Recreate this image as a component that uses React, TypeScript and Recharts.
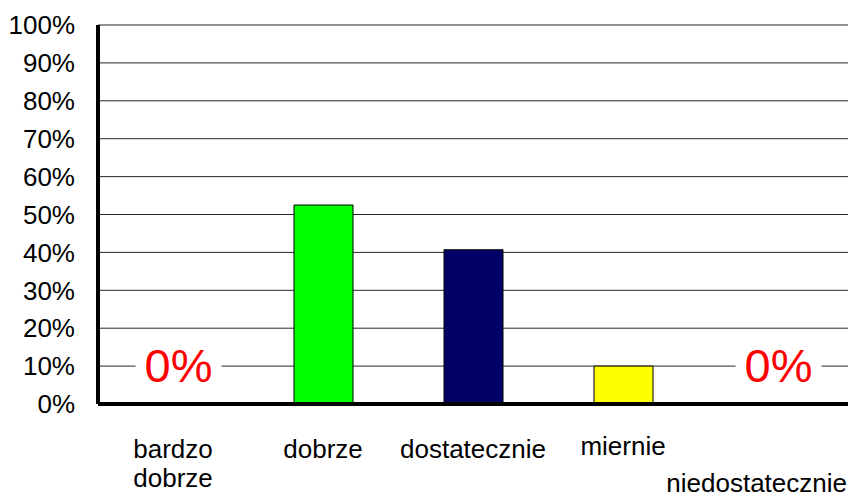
import { BarChart, Bar, XAxis, YAxis, CartesianGrid, Cell, Rectangle } from 'recharts';

const categories = ['bardzo dobrze', 'dobrze', 'dostatecznie', 'miernie', 'niedostatecznie'];
const shares = [0, 52.5, 40.7, 10, 0];
const barColors = ['#ff0000', '#00ff00', '#000066', '#ffff00', '#ff0000'];
const yTicks = [0, 10, 20, 30, 40, 50, 60, 70, 80, 90, 100];

const chartData = categories.map((name, i) => ({ name, value: shares[i] }));

const FONT = '"Liberation Sans", Arial, sans-serif';

const CategoryTick = (props: any) => {
  const { x, y, payload, index } = props;
  const label: string = payload.value;
  // Excel staggers the last label one row lower and keeps it inside the canvas
  if (index === categories.length - 1) {
    return (
      <text x={847} y={y + 80} textAnchor="end" fontSize={26} fontFamily={FONT} fill="#000">
        {label}
      </text>
    );
  }
  const lines = label === 'bardzo dobrze' ? ['bardzo', 'dobrze'] : [label];
  const dy = label === 'miernie' ? -3 : 0;
  return (
    <text x={x} y={y + 46 + dy} textAnchor="middle" fontSize={26} fontFamily={FONT} fill="#000">
      {lines.map((ln, i) => (
        <tspan key={i} x={x} dy={i === 0 ? 0 : 29}>
          {ln}
        </tspan>
      ))}
    </text>
  );
};

// bars with value 0 get a big red "0%" on a white patch instead of a rectangle
const BarShape = (props: any) => {
  const { x, y, width, height, payload } = props;
  if (payload.value === 0) {
    const cx = x + width / 2 + 5;
    const cy = y + height - 38;
    return (
      <g>
        <rect x={cx - 43} y={cy - 22} width={86} height={44} fill="#fff" />
        <text x={cx} y={cy + 16} textAnchor="middle" fontSize={47} fontFamily={FONT} fill="#ff0000">
          0%
        </text>
      </g>
    );
  }
  return <Rectangle {...props} />;
};

const App = () => {
  return (
    <div style={{ position: 'absolute', left: 0, top: 0, background: '#fff' }}>
      <BarChart
        width={850}
        height={497}
        data={chartData}
        margin={{ top: 25, right: 2, left: 0, bottom: 0 }}
        barCategoryGap={0}
      >
        <CartesianGrid vertical={false} stroke="#000" strokeWidth={1} strokeOpacity={0.85} />
        <XAxis
          dataKey="name"
          tickLine={false}
          axisLine={{ stroke: '#000', strokeWidth: 4 }}
          tick={<CategoryTick />}
          interval={0}
          height={93}
        />
        <YAxis
          domain={[0, 100]}
          ticks={yTicks}
          width={98}
          tickLine={false}
          tickSize={0}
          tickMargin={23}
          axisLine={{ stroke: '#000', strokeWidth: 4 }}
          tickFormatter={(v) => `${v}%`}
          tick={{ fontSize: 26, fontFamily: FONT, fill: '#000' }}
          interval={0}
        />
        <Bar
          dataKey="value"
          barSize={59}
          stroke="#000"
          strokeWidth={1}
          minPointSize={0}
          shape={<BarShape />}
          isAnimationActive={false}
        >
          {chartData.map((d, i) => (
            <Cell key={d.name} fill={barColors[i]} />
          ))}
        </Bar>
      </BarChart>
    </div>
  );
};

export default App;
